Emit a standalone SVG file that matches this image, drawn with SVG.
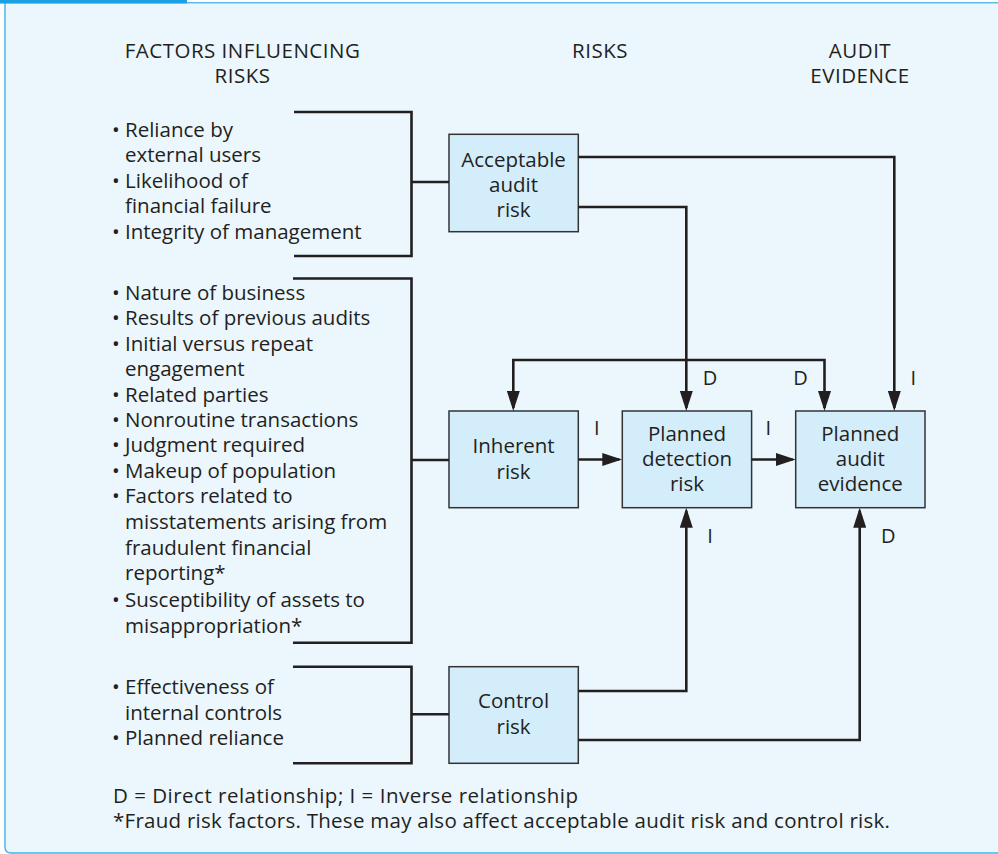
<svg xmlns="http://www.w3.org/2000/svg" width="998" height="854" viewBox="0 0 998 854">
  <defs>
    <style>
      text { font-family: "Open Sans", "Noto Sans", "Liberation Sans", sans-serif; font-size: 20.5px; fill: #231f20; }
      .c { text-anchor: middle; }
      .hd { text-anchor: middle; letter-spacing: 0.5px; }
      .box { fill: #d3edfb; stroke: #333333; stroke-width: 1.5; }
      .ln { fill: none; stroke: #231f20; stroke-width: 2.6; }
      .arr { fill: none; stroke: #231f20; stroke-width: 2.6; marker-end: url(#ah); }
      .arr2 { fill: none; stroke: #231f20; stroke-width: 2.6; marker-start: url(#ah); marker-end: url(#ah); }
      .lbl { text-anchor: middle; font-size: 20px; }
    </style>
    <marker id="ah" markerUnits="userSpaceOnUse" viewBox="0 0 20 13" refX="17" refY="6.5" markerWidth="20" markerHeight="13" orient="auto-start-reverse">
      <path d="M0,0 L20,6.5 L0,13 Z" fill="#231f20"/>
    </marker>
  </defs>

  <!-- panel -->
  <rect x="0" y="0" width="998" height="854" fill="#ffffff"/>
  <path d="M5,3 H998 V853 H11 Q5,853 5,847 Z" fill="#ebf6fd"/>
  <path d="M5,3 V847 Q5,853 11,853 H998" fill="none" stroke="#3db5ea" stroke-width="1.4"/>
  <line x1="187" y1="2.8" x2="998" y2="2.8" stroke="#5bbdea" stroke-width="1.5"/>
  <rect x="0" y="0" width="187" height="3.6" fill="#1ba1e2"/>

  <!-- column headers -->
  <g id="headers">
    <text class="hd"><tspan x="242.5" y="58">FACTORS INFLUENCING</tspan><tspan x="242.5" y="83">RISKS</tspan></text>
    <text class="hd" x="600" y="58">RISKS</text>
    <text class="hd"><tspan x="860" y="58">AUDIT</tspan><tspan x="860" y="83">EVIDENCE</tspan></text>
  </g>

  <!-- factor lists -->
  <g id="factors-acceptable">
    <text><tspan x="112" y="137.3">•</tspan><tspan x="125" y="137.3">Reliance by</tspan><tspan x="125" y="162.3">external users</tspan><tspan x="112" y="187.7">•</tspan><tspan x="125" y="187.7">Likelihood of</tspan><tspan x="125" y="213.3">financial failure</tspan><tspan x="112" y="239">•</tspan><tspan x="125" y="239">Integrity of management</tspan></text>
  </g>
  <g id="factors-inherent">
    <text><tspan x="112" y="300">•</tspan><tspan x="125" y="300">Nature of business</tspan><tspan x="112" y="325.3">•</tspan><tspan x="125" y="325.3">Results of previous audits</tspan><tspan x="112" y="350.6">•</tspan><tspan x="125" y="350.6">Initial versus repeat</tspan><tspan x="125" y="376">engagement</tspan><tspan x="112" y="401.5">•</tspan><tspan x="125" y="401.5">Related parties</tspan><tspan x="112" y="426.8">•</tspan><tspan x="125" y="426.8">Nonroutine transactions</tspan><tspan x="112" y="452.3">•</tspan><tspan x="125" y="452.3">Judgment required</tspan><tspan x="112" y="478">•</tspan><tspan x="125" y="478">Makeup of population</tspan><tspan x="112" y="503.4">•</tspan><tspan x="125" y="503.4">Factors related to</tspan><tspan x="125" y="529">misstatements arising from</tspan><tspan x="125" y="554.6">fraudulent financial</tspan><tspan x="125" y="580">reporting*</tspan><tspan x="112" y="606.6">•</tspan><tspan x="125" y="606.6">Susceptibility of assets to</tspan><tspan x="125" y="632.5">misappropriation*</tspan></text>
  </g>
  <g id="factors-control">
    <text><tspan x="112" y="694.3">•</tspan><tspan x="125" y="694.3">Effectiveness of</tspan><tspan x="125" y="719.5">internal controls</tspan><tspan x="112" y="745">•</tspan><tspan x="125" y="745">Planned reliance</tspan></text>
  </g>

  <!-- risk nodes -->
  <g id="acceptable-audit-risk">
    <rect class="box" x="449" y="134.3" width="129.3" height="97.4"/>
    <text class="c"><tspan x="513.6" y="166.7">Acceptable</tspan><tspan x="513.6" y="192">audit</tspan><tspan x="513.6" y="217.3">risk</tspan></text>
  </g>
  <g id="inherent-risk">
    <rect class="box" x="449" y="411" width="129.3" height="96.7"/>
    <text class="c"><tspan x="513.6" y="453.3">Inherent</tspan><tspan x="513.6" y="478.5">risk</tspan></text>
  </g>
  <g id="planned-detection-risk">
    <rect class="box" x="622.3" y="411" width="129.3" height="96.7"/>
    <text class="c"><tspan x="687" y="440.7">Planned</tspan><tspan x="687" y="466">detection</tspan><tspan x="687" y="491">risk</tspan></text>
  </g>
  <g id="planned-audit-evidence">
    <rect class="box" x="795.7" y="411" width="129.3" height="96.7"/>
    <text class="c"><tspan x="860.3" y="440.7">Planned</tspan><tspan x="860.3" y="466">audit</tspan><tspan x="860.3" y="491">evidence</tspan></text>
  </g>
  <g id="control-risk">
    <rect class="box" x="449" y="666.7" width="129.3" height="96.6"/>
    <text class="c"><tspan x="513.6" y="708.3">Control</tspan><tspan x="513.6" y="733.5">risk</tspan></text>
  </g>

  <!-- connectors -->
  <g id="connectors">
    <path class="ln" d="M294,112 H411.5 V256 H294 M411.5,182 H449"/>
    <path class="ln" d="M293,278.5 H411.5 V642.7 H293 M411.5,460 H449"/>
    <path class="ln" d="M293,666.7 H411.5 V763.3 H293 M411.5,714.3 H449"/>
    <path class="arr" d="M578.3,157 H894.3 V408"/>
    <path class="arr" d="M578.3,207 H686.3 V408"/>
    <path class="arr2" d="M513.3,408 V360 H824.5 V408"/>
    <path class="arr" d="M578.3,459.5 H619.3"/>
    <path class="arr" d="M751.6,459.5 H792.7"/>
    <path class="arr" d="M578.3,691 H686.3 V510.7"/>
    <path class="arr" d="M578.3,740 H859.7 V510.7"/>
    <text class="lbl" x="710" y="385">D</text>
    <text class="lbl" x="800.5" y="385">D</text>
    <text class="lbl" x="913.3" y="385">I</text>
    <text class="lbl" x="596.7" y="435">I</text>
    <text class="lbl" x="768.3" y="435">I</text>
    <text class="lbl" x="710" y="543">I</text>
    <text class="lbl" x="888.3" y="543">D</text>
  </g>

  <!-- legend / footnote -->
  <g id="legend">
    <text><tspan x="113" y="803.3" textLength="465" lengthAdjust="spacing">D = Direct relationship; I = Inverse relationship</tspan><tspan x="113" y="828.3" textLength="777" lengthAdjust="spacing">*Fraud risk factors. These may also affect acceptable audit risk and control risk.</tspan></text>
  </g>
</svg>
